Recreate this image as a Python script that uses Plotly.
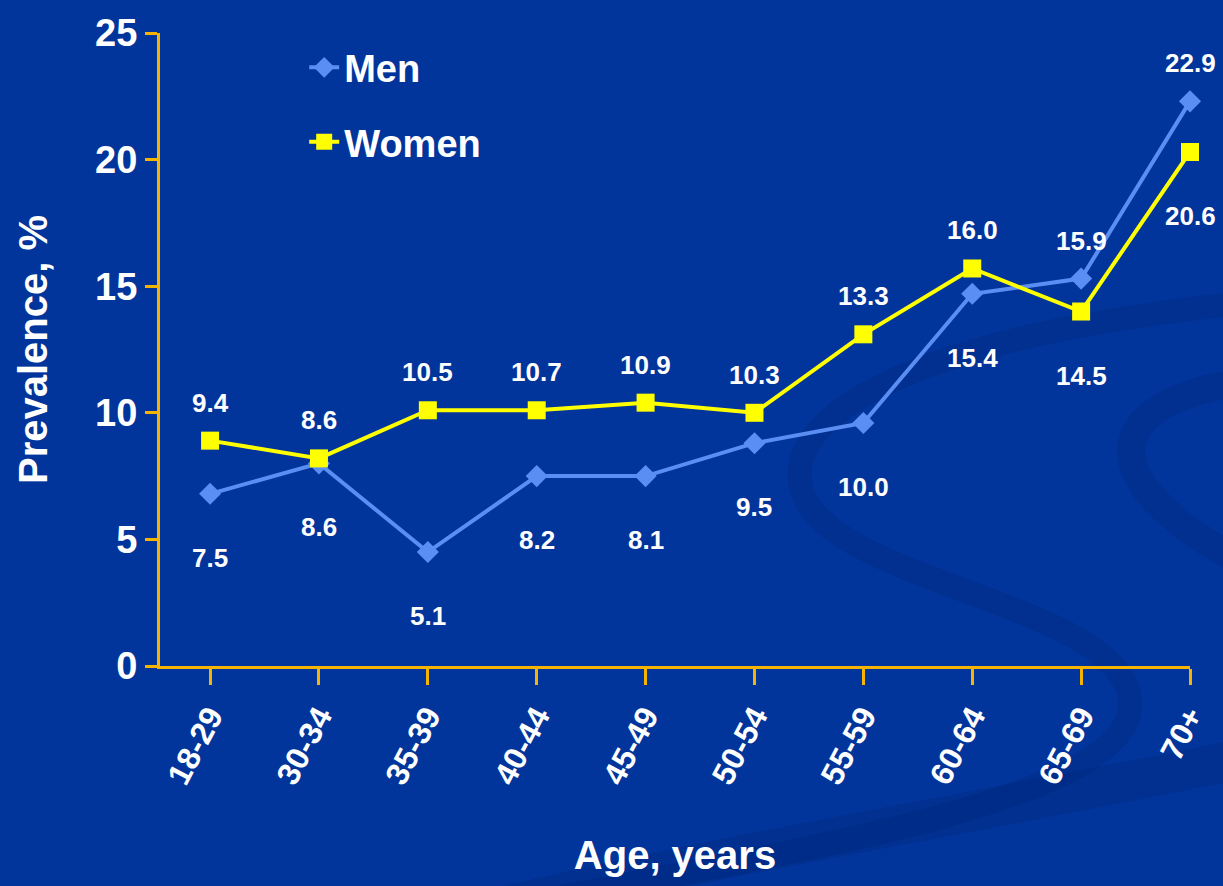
import plotly.graph_objects as go

# ---- data ----
age_groups = ["18-29", "30-34", "35-39", "40-44", "45-49", "50-54", "55-59", "60-64", "65-69", "70+"]
men_values = [6.8, 8.0, 4.5, 7.5, 7.5, 8.8, 9.6, 14.7, 15.3, 22.3]
women_values = [8.9, 8.2, 10.1, 10.1, 10.4, 10.0, 13.1, 15.7, 14.0, 20.3]
men_labels = ["7.5", "8.6", "5.1", "8.2", "8.1", "9.5", "10.0", "15.4", "15.9", "22.9"]
women_labels = ["9.4", "8.6", "10.5", "10.7", "10.9", "10.3", "13.3", "16.0", "14.5", "20.6"]
men_label_side = ["below"] * 8 + ["above", "above"]
women_label_side = ["above"] * 8 + ["below", "below"]
y_ticks = [0, 5, 10, 15, 20, 25]

BG = "#02359b"
GOLD = "#f5b400"
MEN_C = "#5b8ef2"
WOMEN_C = "#ffff00"
SANS = "Liberation Sans, Arial, sans-serif"

x_idx = list(range(len(age_groups)))

fig = go.Figure()
fig.add_trace(go.Scatter(
    x=x_idx, y=men_values, name="Men", mode="lines+markers", legendgroup="men",
    line=dict(color=MEN_C, width=4),
    marker=dict(symbol="diamond", size=17, color=MEN_C),
    cliponaxis=False,
))
fig.add_trace(go.Scatter(
    x=x_idx, y=women_values, name="Women", mode="lines+markers", legendgroup="women",
    line=dict(color=WOMEN_C, width=4),
    marker=dict(symbol="square", size=18, color=WOMEN_C),
    cliponaxis=False,
))

annotations = []
for xs, vals, labs, sides in [(x_idx, men_values, men_labels, men_label_side),
                              (x_idx, women_values, women_labels, women_label_side)]:
    for xi, v, lab, side in zip(xs, vals, labs, sides):
        annotations.append(dict(
            x=xi, y=v, xref="x", yref="y", text="<b>%s</b>" % lab, showarrow=False,
            yshift=38 if side == "above" else -64,
            font=dict(family=SANS, size=26, color="white"),
        ))

# decorative background swooshes
L, R, T, B = 160, 1190, 27, 666
def p(x, y):
    return (x - L) / (R - L), (B - y) / (B - T)

def path(pts):
    s = "M %f,%f" % p(*pts[0])
    for i in range(1, len(pts), 3):
        c1, c2, e = p(*pts[i]), p(*pts[i + 1]), p(*pts[i + 2])
        s += " C %f,%f %f,%f %f,%f" % (c1 + c2 + e)
    return s

SW = "rgba(0,30,110,0.22)"
shapes = [
    dict(type="path", xref="paper", yref="paper", layer="below",
         path=path([(1240, 300), (950, 330), (790, 400), (800, 480),
                    (810, 580), (1120, 600), (1130, 700),
                    (1140, 800), (800, 850), (560, 900)]),
         line=dict(color=SW, width=24)),
    dict(type="path", xref="paper", yref="paper", layer="below",
         path=path([(1240, 380), (1100, 400), (1090, 480), (1240, 560)]),
         line=dict(color=SW, width=28)),
    dict(type="path", xref="paper", yref="paper", layer="below",
         path=path([(1240, 760), (1000, 810), (700, 860), (500, 910)]),
         line=dict(color=SW, width=40)),
]

fig.update_layout(
    width=1223, height=886,
    paper_bgcolor=BG, plot_bgcolor="rgba(0,0,0,0)",
    margin=dict(l=L, r=1223 - R, t=T, b=886 - B),
    showlegend=True,
    legend=dict(x=0.14, y=0.995, xanchor="left", yanchor="top",
                bgcolor="rgba(0,0,0,0)", valign="top",
                font=dict(family=SANS, size=38, color="white", weight="bold"),
                tracegroupgap=22),
    annotations=annotations,
    shapes=shapes,
    xaxis=dict(
        range=[-0.46, 9], tickmode="array", tickvals=x_idx, ticktext=age_groups,
        tickangle=-62, ticks="outside", ticklen=16, tickwidth=3, tickcolor=GOLD,
        showline=True, linecolor=GOLD, linewidth=3, showgrid=False, zeroline=False,
        tickfont=dict(family=SANS, size=32, color="white", weight="bold"),
        title=dict(text="<b>Age, years</b>", font=dict(family=SANS, size=40, color="white"), standoff=52),
    ),
    yaxis=dict(
        range=[0, 25], tickmode="array", tickvals=y_ticks,
        ticks="outside", ticklen=12, tickwidth=3, tickcolor=GOLD,
        showline=True, linecolor=GOLD, linewidth=3, showgrid=False, zeroline=False,
        tickfont=dict(family=SANS, size=38, color="white", weight="bold"),
        title=dict(text="<b>Prevalence, %</b>", font=dict(family=SANS, size=40, color="white"), standoff=36),
    ),
)

fig.write_html("out.html", config={"displayModeBar": False},
               post_script="document.body.style.margin='0';document.body.style.background='%s';" % BG)
